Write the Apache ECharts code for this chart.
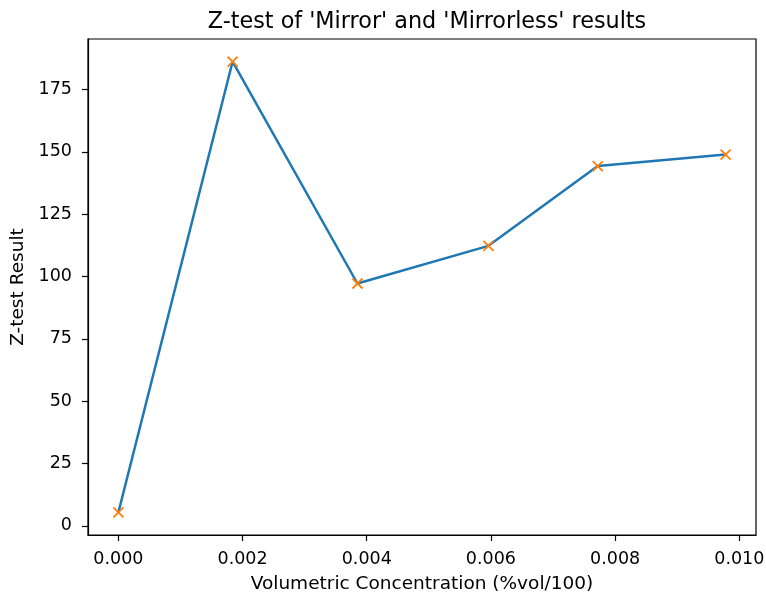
<!DOCTYPE html>
<html>
<head>
<meta charset="utf-8">
<script src="https://cdn.jsdelivr.net/npm/echarts@6/dist/echarts.min.js"></script>
<style>
  html, body { margin: 0; padding: 0; background: #fff; }
  #chart { width: 766px; height: 592px; }
</style>
</head>
<body>
<div id="chart"></div>
<script>
// Volumetric concentration (%vol/100) and the matching Z-test results
const concentration = [0.0, 0.00184, 0.00385, 0.00596, 0.00772, 0.00978];
const zResult = [5.4, 186.2, 97.2, 112.3, 144.3, 148.9];

// Tick positions
const xTicks = [0.000, 0.002, 0.004, 0.006, 0.008, 0.010];
const yTicks = [0, 25, 50, 75, 100, 125, 150, 175];

const points = concentration.map((c, i) => [c, zResult[i]]);

// 5% padding on each side of the data range
function padded(arr) {
  const lo = Math.min(...arr), hi = Math.max(...arr);
  const m = (hi - lo) * 0.05;
  return [lo - m, hi + m];
}
const [xMin, xMax] = padded(concentration);
const [yMin, yMax] = padded(zResult);

const font = 'DejaVu Sans';
const chart = echarts.init(document.getElementById('chart'), null, { renderer: 'canvas' });

chart.setOption({
  backgroundColor: '#ffffff',
  animation: false,
  title: {
    text: "Z-test of 'Mirror' and 'Mirrorless' results",
    left: 422,
    top: 6,
    textAlign: 'center',
    textStyle: { fontFamily: font, fontSize: 22.3, fontWeight: 'normal', color: '#000' }
  },
  grid: {
    left: 88, right: 10, top: 39, bottom: 57,
    outerBoundsMode: 'none',
    containLabel: false,
    show: true, borderColor: '#000', borderWidth: 1.2, backgroundColor: 'transparent'
  },
  xAxis: {
    type: 'value',
    min: xMin, max: xMax,
    name: 'Volumetric Concentration (%vol/100)',
    nameLocation: 'middle',
    nameGap: 40,
    nameTextStyle: { fontFamily: font, fontSize: 18.5, color: '#000' },
    axisLine: { show: true, onZero: false, lineStyle: { color: '#000', width: 1.2 } },
    axisTick: { show: true, length: 6, customValues: xTicks, lineStyle: { color: '#000', width: 1.2 } },
    axisLabel: {
      customValues: xTicks, margin: 15,
      fontFamily: font, fontSize: 17.5, color: '#000',
      formatter: v => v.toFixed(3)
    },
    splitLine: { show: false }
  },
  yAxis: {
    type: 'value',
    min: yMin, max: yMax,
    name: 'Z-test Result',
    nameLocation: 'middle',
    nameGap: 59,
    nameTextStyle: { fontFamily: font, fontSize: 18.5, color: '#000' },
    axisLine: { show: true, onZero: false, lineStyle: { color: '#000', width: 1.2 } },
    axisTick: { show: true, length: 6, customValues: yTicks, lineStyle: { color: '#000', width: 1.2 } },
    axisLabel: {
      customValues: yTicks, margin: 16,
      fontFamily: font, fontSize: 17.5, color: '#000'
    },
    splitLine: { show: false }
  },
  series: [
    {
      type: 'line',
      data: points,
      showSymbol: false,
      lineStyle: { color: '#1f77b4', width: 2.5 },
      z: 2
    },
    {
      type: 'scatter',
      data: points,
      symbol: 'path://M0,0L10,10M10,0L0,10',
      symbolSize: 10,
      itemStyle: { color: 'transparent', borderColor: '#ff7f0e', borderWidth: 1.8, opacity: 1 },
      z: 3
    }
  ]
});
</script>
</body>
</html>
